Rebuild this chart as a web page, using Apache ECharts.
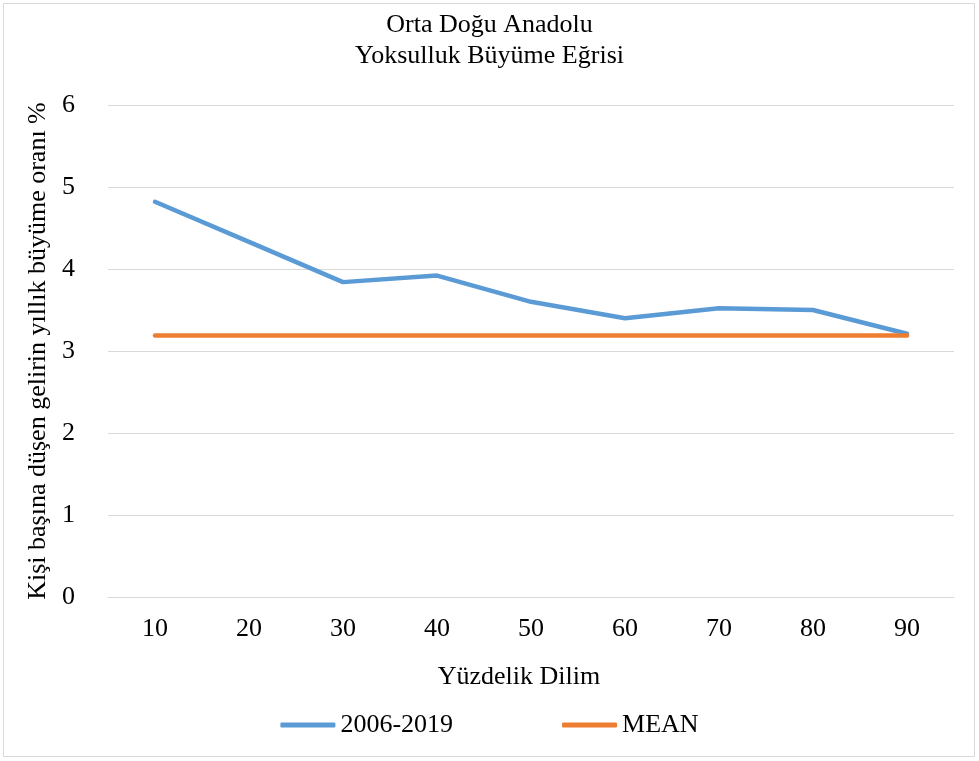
<!DOCTYPE html>
<html><head><meta charset="utf-8">
<script src="https://cdn.jsdelivr.net/npm/echarts@6/dist/echarts.min.js"></script>
<style>html,body{margin:0;padding:0;background:#fff}#c{width:979px;height:761px}</style>
</head><body><div id="c"></div>
<script>
const categories = ['10','20','30','40','50','60','70','80','90'];
const series2006 = [4.82, 4.33, 3.84, 3.92, 3.60, 3.40, 3.52, 3.50, 3.21];
const seriesMean = [3.19, 3.19, 3.19, 3.19, 3.19, 3.19, 3.19, 3.19, 3.19];
const yTicks = [0, 1, 2, 3, 4, 5, 6];

const FONT = '"Liberation Serif", "Times New Roman", serif';
const FS = 26;
const chart = echarts.init(document.getElementById('c'), null, {renderer:'canvas'});
chart.setOption({
  animation: false,
  backgroundColor: '#fff',
  textStyle: {fontFamily: FONT, color: '#000'},
  title: [
    {text: 'Orta Doğu Anadolu\nYoksulluk Büyüme Eğrisi', left: 'center', top: 5,
     textStyle: {fontFamily: FONT, fontSize: FS, fontWeight: 'normal', color: '#000', lineHeight: 31}},
    {text: 'Yüzdelik Dilim', left: 514, top: 659, textAlign: 'center',
     textStyle: {fontFamily: FONT, fontSize: FS, fontWeight: 'normal', color: '#000'}}
  ],
  graphic: [{type:'rect', shape:{x:3.5, y:3.5, width:971, height:753}, style:{fill:'none', stroke:'#d9d9d9', lineWidth:1}, silent:true}],
  legend: {
    left: 'center', top: 707, itemWidth: 55, itemHeight: 5, itemGap: 109, icon: 'roundRect',
    textStyle: {fontFamily: FONT, fontSize: FS, color: '#000'},
    data: ['2006-2019', 'MEAN']
  },
  grid: {left: 108, right: 25, top: 105, bottom: 164},
  xAxis: {
    type: 'category', data: categories, boundaryGap: true,
    axisLine: {show: true, lineStyle: {color: '#d9d9d9'}},
    axisTick: {show: false},
    axisLabel: {fontFamily: FONT, fontSize: FS, color: '#000', margin: 19}
  },
  yAxis: {
    type: 'value', min: yTicks[0], max: yTicks[yTicks.length-1], interval: 1,
    name: 'Kişi başına düşen gelirin yıllık büyüme oranı %', nameLocation: 'middle', nameGap: 54,
    nameTextStyle: {fontFamily: FONT, fontSize: FS, color: '#000'},
    axisLine: {show: false}, axisTick: {show: false},
    axisLabel: {fontFamily: FONT, fontSize: FS, color: '#000', margin: 33},
    splitLine: {lineStyle: {color: '#d9d9d9', width: 1}}
  },
  series: [
    {name: '2006-2019', type: 'line', data: series2006, showSymbol: false, symbol: 'none',
     lineStyle: {color: '#5B9BD5', width: 4.5, cap: 'round', join: 'round'}, itemStyle: {color: '#5B9BD5'}},
    {name: 'MEAN', type: 'line', data: seriesMean, showSymbol: false, symbol: 'none',
     lineStyle: {color: '#ED7D31', width: 4.5, cap: 'round', join: 'round'}, itemStyle: {color: '#ED7D31'}}
  ]
});
</script></body></html>
